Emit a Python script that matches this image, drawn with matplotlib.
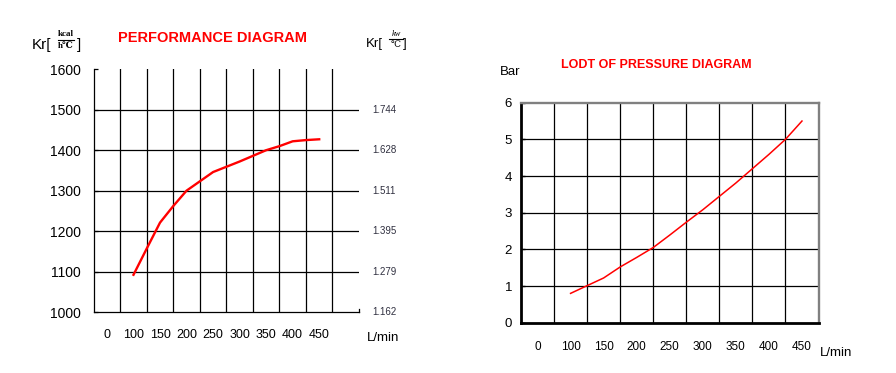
import matplotlib
matplotlib.use("Agg")
import matplotlib.pyplot as plt
from matplotlib.lines import Line2D

plt.rcParams['font.family'] = ['Liberation Sans', 'DejaVu Sans']

# ---------------- data ----------------
# tick positions are cell centres; the first cell is labelled "0"
tick_pos = [50, 100, 150, 200, 250, 300, 350, 400, 450]
tick_labels = ["0", "100", "150", "200", "250", "300", "350", "400", "450"]

perf_flow = [100, 125, 150, 175, 200, 250, 300, 350, 375, 400, 425, 450]
perf_kr = [1092, 1157, 1221, 1262, 1300, 1346, 1372, 1400, 1410, 1422, 1425, 1427]
perf_yticks = [1000, 1100, 1200, 1300, 1400, 1500, 1600]
perf_right_labels = ["1.162", "1.279", "1.395", "1.511", "1.628", "1.744"]

press_flow = [100, 125, 150, 175, 200, 225, 250, 275, 300, 350, 400, 425, 450]
press_bar = [0.80, 1.01, 1.22, 1.52, 1.78, 2.05, 2.39, 2.74, 3.08, 3.81, 4.59, 5.00, 5.50]
press_yticks = [0, 1, 2, 3, 4, 5, 6]

grid_x_left = [75, 125, 175, 225, 275, 325, 375, 425, 475]
grid_x_right = [75, 125, 175, 225, 275, 325, 375, 425]

W, H = 896, 373
fig = plt.figure(figsize=(W / 100, H / 100), dpi=100)


def fx(px):
    return px / W


def fy(py):
    return 1 - py / H


# ---------------- left: performance diagram ----------------
ax1 = fig.add_axes([fx(93.7), fy(312), fx(359 - 93.7), (312 - 69.3) / H])
ax1.set_xlim(25, 525)
ax1.set_ylim(1000, 1600)
for gx in grid_x_left:
    ax1.axvline(gx, color='black', lw=0.9, zorder=1)
for gy in perf_yticks[1:-1]:
    ax1.axhline(gy, color='black', lw=0.9, zorder=1)
ax1.plot(perf_flow, perf_kr, color='red', lw=1.7, zorder=3)

ax1.spines['top'].set_visible(False)
ax1.spines['right'].set_bounds(1000, 1008)
for s in ['left', 'bottom', 'right']:
    ax1.spines[s].set_linewidth(0.9)
ax1.set_yticks(perf_yticks)
ax1.set_yticklabels([str(v) for v in perf_yticks])
ax1.tick_params(axis='y', direction='in', length=3, width=0.9, pad=9, labelsize=10)
ax1.set_xticks(tick_pos)
ax1.set_xticklabels(tick_labels)
ax1.tick_params(axis='x', length=0, pad=12, labelsize=9)

for v, lab in zip(perf_yticks[:-1], perf_right_labels):
    ax1.text(1.05, (v - 1000) / 600, lab, transform=ax1.transAxes,
             fontsize=7, color='#303040', va='center', ha='left')

fig.text(fx(212.8), fy(38), "PERFORMANCE DIAGRAM", color='red',
         fontsize=10.5, fontweight='bold', ha='center', va='center')
fig.text(fx(383), fy(338), "L/min", fontsize=9.5, ha='center', va='center')

# left unit label Kr[kcal / h℃]
fig.text(fx(32), fy(45.5), "Kr[", fontsize=11, ha='left', va='center')
fig.text(fx(65.5), fy(34.5), "kcal", fontsize=6.5, ha='center', va='center',
         family=['Liberation Serif', 'DejaVu Serif'], fontweight='bold')
fig.add_artist(Line2D([fx(57.5), fx(74)], [fy(40.2), fy(40.2)], color='black', lw=0.8))
fig.text(fx(65.5), fy(46.5), "h℃", fontsize=6.5, ha='center', va='center',
         family=['Liberation Serif', 'DejaVu Serif', 'DejaVu Sans'], fontweight='bold')
fig.text(fx(78.5), fy(45.5), "]", fontsize=11, ha='center', va='center')

# right unit label Kr[kw / ℃]
fig.text(fx(366), fy(43.5), "Kr[", fontsize=9.5, ha='left', va='center')
fig.text(fx(396), fy(34), "kw", fontsize=6, ha='center', va='center',
         family=['Liberation Serif', 'DejaVu Serif'], style='italic')
fig.add_artist(Line2D([fx(389), fx(403)], [fy(39.3), fy(39.3)], color='black', lw=0.8))
fig.text(fx(396), fy(45), "℃", fontsize=6.5, ha='center', va='center',
         family=['Liberation Serif', 'DejaVu Serif', 'DejaVu Sans'])
fig.text(fx(405), fy(43.5), "]", fontsize=9.5, ha='center', va='center')

# ---------------- right: pressure diagram ----------------
ax2 = fig.add_axes([fx(521), fy(322.7), fx(818.5 - 521), (322.7 - 102.7) / H])
ax2.set_xlim(25, 475)
ax2.set_ylim(0, 6)
for gx in grid_x_right:
    ax2.axvline(gx, color='black', lw=0.9, zorder=1)
for gy in press_yticks[1:-1]:
    ax2.axhline(gy, color='black', lw=0.9, zorder=1)
ax2.plot(press_flow, press_bar, color='red', lw=1.1, zorder=3)

ax2.spines['left'].set_linewidth(2.0)
ax2.spines['bottom'].set_linewidth(2.0)
ax2.spines['top'].set_color('#808080')
ax2.spines['right'].set_color('#808080')
ax2.spines['top'].set_linewidth(1.7)
ax2.spines['right'].set_linewidth(1.7)
ax2.set_yticks(press_yticks)
ax2.set_yticklabels([str(v) for v in press_yticks])
ax2.tick_params(axis='y', direction='in', length=3, width=1, pad=6.5, labelsize=9.5)
ax2.set_xticks(tick_pos)
ax2.set_xticklabels(tick_labels)
ax2.tick_params(axis='x', length=0, pad=13, labelsize=8.5)

fig.text(fx(656.5), fy(65), "LODT OF PRESSURE DIAGRAM", color='red',
         fontsize=9, fontweight='bold', ha='center', va='center')
fig.text(fx(510.5), fy(72), "Bar", fontsize=9.5, ha='center', va='center')
fig.text(fx(836.5), fy(352.5), "L/min", fontsize=9.5, ha='center', va='center')

fig.savefig("out.png", dpi=100)
